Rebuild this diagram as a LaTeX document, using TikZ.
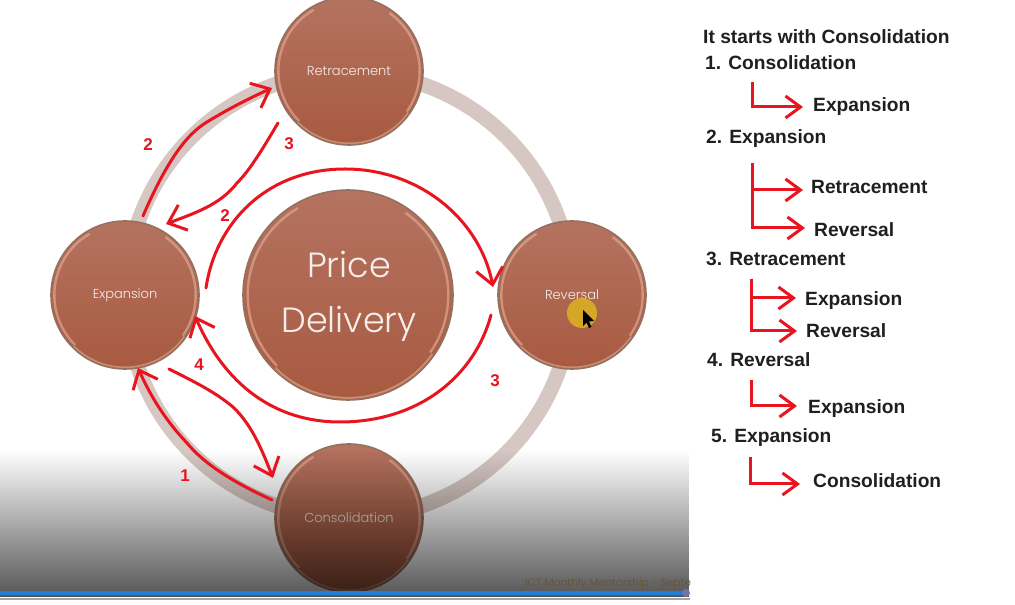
\documentclass[tikz,border=0pt]{standalone}
\usepackage{fontspec}
\setmainfont{Liberation Sans}
\newfontfamily\ringfont{Poppins Light}
\usetikzlibrary{arrows.meta,fadings}
\definecolor{beadtop}{HTML}{B47360}
\definecolor{beadlow}{HTML}{A85A40}
\definecolor{beadrim}{HTML}{94705F}
\definecolor{beadlit}{HTML}{E3AB95}
\definecolor{ringtone}{HTML}{D6C7C3}
\definecolor{penred}{HTML}{E8141F}
\definecolor{barblue}{HTML}{1F7FD6}
\definecolor{footink}{HTML}{655230}
\tikzfading[name=dusk,top color=transparent!100,middle color=transparent!58,bottom color=transparent!33]
\tikzset{
 bead/.style={circle,inner sep=0pt,minimum size=2*#1 pt,draw=beadrim,line width=1.6pt,
  top color=beadtop,bottom color=beadlow,text=white!88!beadtop,align=center,
  path picture={
   \draw[beadlit,line width=2.4pt,opacity=0.65] ([shift={(120:#1*0.955)}]path picture bounding box.center) arc (120:225:#1*0.955);
   \draw[beadlit,line width=2.4pt,opacity=0.65] ([shift={(-35:#1*0.955)}]path picture bounding box.center) arc (-35:55:#1*0.955);
   \draw[beadlit!60!beadlow,line width=2pt] ([shift={(225:#1*0.98)}]path picture bounding box.center) arc (225:325:#1*0.98);
  }},
 beadword/.style={anchor=base,inner sep=0pt,text=white!88!beadtop,font=\ringfont\fontsize{35}{40}\selectfont},
 penline/.style={draw=penred,line width=3pt,line cap=round,-{Straight Barb[length=16pt,width=27pt,line width=3pt]}},
 elbow/.style={draw=penred,line width=3pt,-{Straight Barb[length=15pt,width=22pt,line width=3pt]}},
 count/.style={text=penred,font=\bfseries\fontsize{17}{19}\selectfont,inner sep=0pt},
 listtext/.style={anchor=base west,inner sep=0pt,text=black!88,font=\bfseries\fontsize{19.2}{21}\selectfont},
}
\begin{document}
\begin{tikzpicture}[x=1pt,y=1pt]
 \useasboundingbox (0,0) rectangle (1015,605);
 \fill[white] (0,0) rectangle (1015,605);
 % ring and circles
 \coordinate (ringmid) at (349,310);
 \draw[ringtone,line width=15pt] (ringmid) circle [radius=223];
 \node[bead=105] (hub) at (348,310) {};
 \node[beadword] (price) at (349,327) {Price};
 \node[beadword] (delivery) at (349,272) {Delivery};
 \node[bead=74,font=\ringfont\fontsize{13}{15}\selectfont] (retrace) at (349,534) {Retracement};
 \node[bead=74,font=\ringfont\fontsize{13}{15}\selectfont] (expand) at (125,310) {Expansion};
 \node[bead=74,font=\ringfont\fontsize{13}{15}\selectfont] (reverse) at (572,310) {Reversal};
 \node[bead=74,font=\ringfont\fontsize{13}{15}\selectfont] (consol) at (349,87) {Consolidation};
 % cursor
 \fill[yellow!55!orange!85!black,opacity=0.9] (582,292) circle [radius=15];
 \fill[black] (583,295)--(583,279)--(586.5,282.5)--(589,277)--(591.5,278)--(589,283.5)--(594,284)--cycle;
 % bottom dusk and player bar
 \fill[black,path fading=dusk] (0,8) rectangle (690,155);
 \fill[black!35] (0,5) rectangle (690,7);
 \draw[barblue,line width=3.5pt] (0,12) -- (686,12);
 \fill[blue!35!black!55] (686,12) circle [radius=4];
 \node[anchor=base west,inner sep=0pt,text=footink,font=\ringfont\fontsize{10.8}{13}\selectfont] (foot) at (525,18) {ICT Monthly Mentorship - Septe};
 % ends of the pen strokes
 \coordinate (a1) at (143,389); \coordinate (a2) at (272,517);
 \coordinate (b1) at (278,482); \coordinate (b2) at (166,381);
 \coordinate (c1) at (206,317); \coordinate (c2) at (493,318);
 \coordinate (d1) at (491,290); \coordinate (d2) at (195,289);
 \coordinate (e1) at (272,105); \coordinate (e2) at (138,237);
 \coordinate (f1) at (169,236); \coordinate (f2) at (273,127);
 \draw[penline] (a1) .. controls (165,440) and (185,470) .. (207,483) .. controls (230,497) and (250,507) .. (a2);
 \draw[penline] (b1) .. controls (262,455) and (250,435) .. (237,422) .. controls (220,400) and (195,392) .. (b2);
 \draw[penline] (c1) .. controls (215,380) and (265,436) .. (345,436) .. controls (420,436) and (480,385) .. (c2);
 \draw[penline] (d1) .. controls (475,230) and (420,183) .. (340,183) .. controls (275,183) and (225,220) .. (d2);
 \draw[penline] (e1) .. controls (235,122) and (205,140) .. (187,162) .. controls (165,185) and (150,210) .. (e2);
 \draw[penline] (f1) .. controls (195,223) and (215,213) .. (233,198) .. controls (252,180) and (262,155) .. (f2);
 \node[count] (n2a) at (148,460) {2};
 \node[count] (n3a) at (289,461) {3};
 \node[count] (n2b) at (225,389) {2};
 \node[count] (n4) at (199,240) {4};
 \node[count] (n1) at (185,129) {1};
 \node[count] (n3b) at (495,224) {3};
 % list on the right
 \node[listtext] (head) at (703,561) {It starts with Consolidation};
 \node[listtext] (one) at (705,535) {1. Consolidation};
 \node[listtext] (oneexp) at (813,493) {Expansion};
 \node[listtext] (two) at (706,461) {2. Expansion};
 \node[listtext] (tworet) at (811,411) {Retracement};
 \node[listtext] (tworev) at (814,368) {Reversal};
 \node[listtext] (three) at (706,339) {3. Retracement};
 \node[listtext] (threeexp) at (805,299) {Expansion};
 \node[listtext] (threerev) at (806,267) {Reversal};
 \node[listtext] (four) at (707,238) {4. Reversal};
 \node[listtext] (fourexp) at (808,191) {Expansion};
 \node[listtext] (five) at (711,162) {5. Expansion};
 \node[listtext] (fivecon) at (813,117) {Consolidation};
 \coordinate (s1) at (752,523); \coordinate (t1) at (803,498);
 \coordinate (s2) at (752,442); \coordinate (t2a) at (803,415); \coordinate (t2b) at (805,377);
 \coordinate (s3) at (751,326); \coordinate (t3a) at (796,307); \coordinate (t3b) at (797,274);
 \coordinate (s4) at (751,225); \coordinate (t4) at (797,199);
 \coordinate (s5) at (750,148); \coordinate (t5) at (800,121);
 \draw[elbow] (s1) |- (t1);
 \draw[elbow] (s2) |- (t2a);
 \draw[elbow] (s2) |- (t2b);
 \draw[elbow] (s3) |- (t3a);
 \draw[elbow] (s3) |- (t3b);
 \draw[elbow] (s4) |- (t4);
 \draw[elbow] (s5) |- (t5);
\end{tikzpicture}
\end{document}
